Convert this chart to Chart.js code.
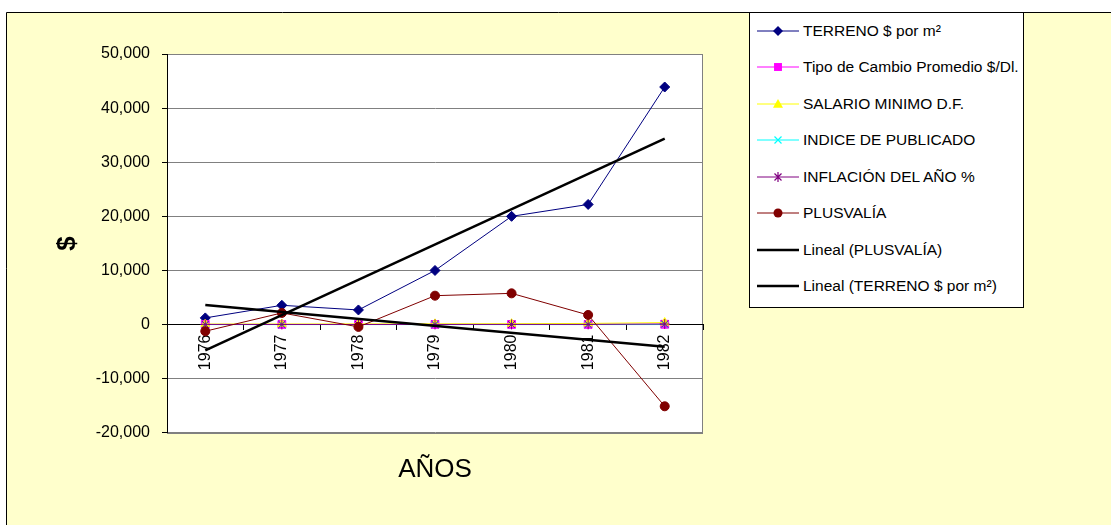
<!DOCTYPE html>
<html lang="es">
<head>
<meta charset="utf-8" />
<title>Terreno y plusvalía 1976-1982</title>
<script src="https://cdn.jsdelivr.net/npm/chart.js@4.4"></script>
<style>
  html,body{margin:0;padding:0;background:#fff;font-family:'Liberation Sans',Arial,sans-serif;}
  #wrap{position:relative;width:1111px;height:525px;overflow:hidden;}
  #chart{position:absolute;left:0;top:0;}

  /* --- legend box --- */
  #legend{position:absolute;left:749px;top:12px;width:273px;height:294px;background:#fff;border:1px solid #000;}
  #legend .item{position:absolute;left:0;height:20px;display:flex;align-items:center;font-size:15.5px;color:#000;white-space:nowrap;}
  #legend svg{margin-left:7px;margin-right:4px;flex:none;}
</style>
</head>
<body>
<div id="wrap">
  <canvas id="chart" width="1111" height="525"></canvas>
  <div id="legend"></div>
</div>

<script>
/***** ---------- Data ---------- *****/
const years=['1976','1977','1978','1979','1980','1981','1982'];
const terreno=[1230,3560,2700,10000,20000,22200,43900];        // $ por m²
const tipoCambio=[15.4,22.6,22.8,22.8,23.0,24.5,57.2];         // $/Dl.
const salarioMinimo=[96.7,106.4,120,138,163,210,364];          // D.F.
const indicePublicado=[0.5,0.6,0.7,0.9,1.1,1.4,2.8];
const inflacion=[27.2,20.7,16.2,20.0,29.8,28.7,98.8];          // %
const plusvalia=[-1230,2150,-430,5340,5770,1780,-15100];
// linear trends, only the 1976 and 1982 ends are kept
const linealPlusvalia=[3630,null,null,null,null,null,-4120];
const linealTerreno=[-4760,null,null,null,null,null,34360];
const yTicks={min:-20000,max:50000,step:10000};

/***** ---------- Series ---------- *****/
const series=[
  {label:'TERRENO $ por m²',data:terreno,color:'#000080',marker:'rectRot',r:5,w:1},
  {label:'Tipo de Cambio Promedio $/Dl.',data:tipoCambio,color:'#ff00ff',marker:'rect',r:5.5,w:1},
  {label:'SALARIO MINIMO D.F.',data:salarioMinimo,color:'#ffff00',marker:'triangle',r:5,w:1},
  {label:'INDICE DE PUBLICADO',data:indicePublicado,color:'#00ffff',marker:'crossRot',r:5,w:1},
  {label:'INFLACIÓN DEL AÑO %',data:inflacion,color:'#800080',marker:'star',r:5,w:1},
  {label:'PLUSVALÍA',data:plusvalia,color:'#800000',marker:'circle',r:4.5,w:1},
  {label:'Lineal (PLUSVALÍA)',data:linealPlusvalia,color:'#000000',marker:null,r:0,w:2.5},
  {label:'Lineal (TERRENO $ por m²)',data:linealTerreno,color:'#000000',marker:null,r:0,w:2.5}
];

/***** ---------- Background: outer frame + white plot area ---------- *****/
const frame={
  id:'frame',
  beforeDraw(chart){
    const {ctx,chartArea:a,width,height}=chart;
    ctx.save();
    ctx.fillStyle='#fff';ctx.fillRect(0,0,width,height);
    ctx.fillStyle='#ffffcc';ctx.fillRect(7,13,width,height);
    ctx.strokeStyle='#000';ctx.lineWidth=1;
    ctx.beginPath();ctx.moveTo(6.5,height);ctx.lineTo(6.5,12.5);ctx.lineTo(width,12.5);ctx.stroke();
    ctx.fillStyle='#fff';ctx.fillRect(a.left,a.top,a.right-a.left,a.bottom-a.top);
    ctx.strokeStyle='#808080';
    ctx.strokeRect(Math.round(a.left)+.5,Math.round(a.top)+.5,Math.round(a.right-a.left)-1,Math.round(a.bottom-a.top));
    ctx.restore();
  }
};

/***** ---------- Chart ---------- *****/
const fontFamily="'Liberation Sans',Arial,sans-serif";
Chart.defaults.font.family=fontFamily;
Chart.defaults.color='#000';

new Chart(document.getElementById('chart'),{
  type:'line',
  data:{
    labels:years,
    datasets:series.map((s,i)=>({
      label:s.label,data:s.data,xAxisID:'x',
      borderColor:s.color,backgroundColor:s.color,borderWidth:s.w,
      pointStyle:s.marker||false,pointRadius:s.r,pointBorderWidth:1,
      pointBackgroundColor:s.color,pointBorderColor:s.color,
      spanGaps:true,tension:0,
      order:series.length-i   // later series drawn on top
    }))
  },
  options:{
    responsive:false,animation:false,
    layout:{padding:{left:0,top:54,right:408,bottom:40}},
    plugins:{legend:{display:false},tooltip:{enabled:false}},
    scales:{
      x:{
        position:{y:0},offset:true,
        ticks:{minRotation:90,maxRotation:90,autoSkip:false,padding:5,font:{size:16}},
        grid:{offset:true,drawOnChartArea:false,tickLength:5,color:'#000'},
        border:{color:'#000',width:1}
      },
      xTitle:{
        type:'category',axis:'x',position:'bottom',offset:true,
        ticks:{display:false},
        grid:{display:false,drawTicks:false},
        border:{display:false},
        title:{display:true,text:'AÑOS',font:{size:26},padding:{top:21,bottom:0}}
      },
      y:{
        min:yTicks.min,max:yTicks.max,
        afterFit(s){s.width=167;},
        ticks:{stepSize:yTicks.step,padding:12,font:{size:16},callback:v=>v.toLocaleString('en-US')},
        grid:{color:c=>c.tick&&c.tick.value===0?'#000':'#808080',tickColor:'#000',tickLength:5},
        border:{color:'#000',width:1},
        title:{display:true,text:'$',font:{size:26,weight:'bold'},padding:{top:52,bottom:0}}
      }
    }
  },
  plugins:[frame]
});

/***** ---------- Legend ---------- *****/
function markerSvg(s){
  const cx=21,cy=7,r=s.r,c=s.color;
  let m='';
  if(s.marker==='rectRot')m=`<polygon points="${cx},${cy-r} ${cx+r},${cy} ${cx},${cy+r} ${cx-r},${cy}" fill="${c}"/>`;
  else if(s.marker==='rect'){const h=r*0.72;m=`<rect x="${cx-h}" y="${cy-h}" width="${2*h}" height="${2*h}" fill="${c}"/>`;}
  else if(s.marker==='triangle')m=`<polygon points="${cx},${cy-r} ${cx+r},${cy+r*0.75} ${cx-r},${cy+r*0.75}" fill="${c}"/>`;
  else if(s.marker==='crossRot')m=`<path d="M${cx-r*.7},${cy-r*.7}L${cx+r*.7},${cy+r*.7}M${cx+r*.7},${cy-r*.7}L${cx-r*.7},${cy+r*.7}" stroke="${c}" stroke-width="1.2"/>`;
  else if(s.marker==='star')m=`<path d="M${cx-r*.7},${cy-r*.7}L${cx+r*.7},${cy+r*.7}M${cx+r*.7},${cy-r*.7}L${cx-r*.7},${cy+r*.7}M${cx},${cy-r}L${cx},${cy+r}" stroke="${c}" stroke-width="1.2"/>`;
  else if(s.marker==='circle')m=`<circle cx="${cx}" cy="${cy}" r="${r}" fill="${c}"/>`;
  return `<svg width="42" height="14" viewBox="0 0 42 14"><line x1="0" y1="${cy}" x2="42" y2="${cy}" stroke="${c}" stroke-width="${s.w}"/>${m}</svg>`;
}
const legend=document.getElementById('legend');
series.forEach((s,i)=>{
  const div=document.createElement('div');
  div.className='item';
  div.style.top=(7.5+i*36.5)+'px';
  div.innerHTML=markerSvg(s)+'<span></span>';
  div.querySelector('span').textContent=s.label;
  legend.appendChild(div);
});
</script>
</body>
</html>
